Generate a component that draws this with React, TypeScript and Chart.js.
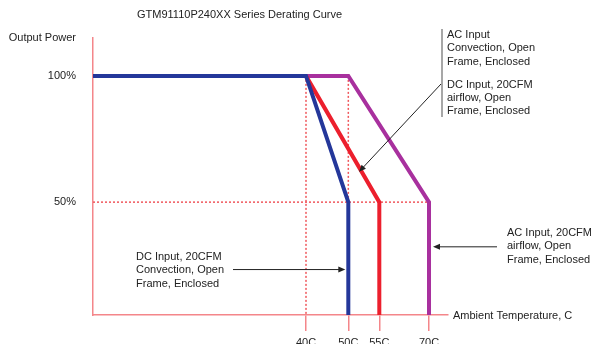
import React, { useEffect, useRef } from "react";
import { Chart, registerables, LinearScale } from "chart.js";

// ---- axis ranges ----
const X_MIN = 0;
const X_MAX = 75;
const Y_MIN = 5.3;
const Y_MAX = 115;

// ---- ticks ----
const xTicks = [40, 50, 55, 70];
const xTickLabels = ["40C", "50C", "55C", "70C"];
const yTicks = [50, 100, 115];
const yTickLabels = ["50%", "100%", "Output Power"];

// ---- series ----
// DC Input, 20CFM Convection, Open Frame, Enclosed
const dcConvX = [X_MIN, 40, 50, 50];
const dcConvY = [100, 100, 50, Y_MIN];
// AC Input Convection / DC Input 20CFM airflow
const dcAirX = [40, 55, 55];
const dcAirY = [100, 50, Y_MIN];
// AC Input, 20CFM airflow
const acAirX = [40, 50, 70, 70];
const acAirY = [100, 100, 50, Y_MIN];

// ---- dotted reference lines ----
const ref50pX = [X_MIN, 70];
const ref50pY = [50, 50];
const ref40cX = [40, 40];
const ref40cY = [100, Y_MIN];
const ref50cX = [50, 50];
const ref50cY = [100, Y_MIN];

// ---- texts ----
const titleText = "GTM91110P240XX Series Derating Curve";
const xAxisTitle = "Ambient Temperature, C";
const noteAcConv = ["AC Input", "Convection, Open", "Frame, Enclosed"];
const noteDcAir = ["DC Input, 20CFM", "airflow, Open", "Frame, Enclosed"];
const noteAcAir = ["AC Input, 20CFM", "airflow, Open", "Frame, Enclosed"];
const noteDcConv = ["DC Input, 20CFM", "Convection, Open", "Frame, Enclosed"];

// arrow tips (data values on the curves)
const tipDcAir = [51.4, 62];
const tipAcAir = [70, 32.3];
const tipDcConv = [50, 23.3];

// the schematic temperature axis is not evenly spaced: break values and
// their relative positions along the axis
const X_BREAKS = [X_MIN, 40, 50, 55, 70, X_MAX];
const X_BREAK_POS = [0, 0.6, 0.7192, 0.8065, 0.9465, 1];

const BLUE = "#24379a";
const RED = "#ec1f2d";
const PURPLE = "#a8309e";
const AXIS = "#f4868a";
const DOT = "#f0575c";
const TEXT = "#222222";
const FONT = '"Liberation Sans", Arial, Helvetica, sans-serif';

class SegmentedScale extends (LinearScale as any) {
  static id = "segmented";
  getPixelForValue(value: number) {
    if (value === null || value === undefined || isNaN(value)) return NaN;
    const s = X_BREAKS;
    const p = X_BREAK_POS;
    let i = 0;
    while (i < s.length - 2 && value > s[i + 1]) i++;
    const d = p[i] + ((value - s[i]) / (s[i + 1] - s[i])) * (p[i + 1] - p[i]);
    return (this as any).getPixelForDecimal(d);
  }
  getValueForPixel(pixel: number) {
    const d = (this as any).getDecimalForPixel(pixel);
    const s = X_BREAKS;
    const p = X_BREAK_POS;
    let i = 0;
    while (i < p.length - 2 && d > p[i + 1]) i++;
    return s[i] + ((d - p[i]) / (p[i + 1] - p[i])) * (s[i + 1] - s[i]);
  }
}

Chart.register(...registerables, SegmentedScale as any);

const pts = (xs: number[], ys: number[]) => xs.map((x, i) => ({ x, y: ys[i] }));

function arrow(ctx: CanvasRenderingContext2D, x1: number, y1: number, x2: number, y2: number) {
  const a = Math.atan2(y2 - y1, x2 - x1);
  const len = 7;
  const w = 3;
  ctx.beginPath();
  ctx.moveTo(x1, y1);
  ctx.lineTo(x2 - Math.cos(a) * (len - 1), y2 - Math.sin(a) * (len - 1));
  ctx.stroke();
  ctx.beginPath();
  ctx.moveTo(x2, y2);
  ctx.lineTo(x2 - Math.cos(a) * len - Math.sin(a) * w, y2 - Math.sin(a) * len + Math.cos(a) * w);
  ctx.lineTo(x2 - Math.cos(a) * len + Math.sin(a) * w, y2 - Math.sin(a) * len - Math.cos(a) * w);
  ctx.closePath();
  ctx.fill();
}

const annotations = {
  id: "annotations",
  afterDatasetsDraw(chart: any) {
    const ctx: CanvasRenderingContext2D = chart.ctx;
    const xs = chart.scales.x;
    const ys = chart.scales.y;
    ctx.save();
    ctx.font = `11px ${FONT}`;
    ctx.fillStyle = TEXT;
    ctx.textBaseline = "middle";
    ctx.textAlign = "left";
    ctx.fillText(titleText, 137, 15);
    ctx.fillText(xAxisTitle, 453, 316);

    const block = (lines: string[], x: number, y0: number) =>
      lines.forEach((t, i) => ctx.fillText(t, x, y0 + i * 13.4));
    block(noteAcConv, 447, 34.8);
    block(noteDcAir, 447, 84.6);
    block(noteAcAir, 507, 232.7);
    block(noteDcConv, 136, 256.8);

    // grey bracket
    ctx.strokeStyle = "#8a8a8a";
    ctx.lineWidth = 1.5;
    ctx.beginPath();
    ctx.moveTo(442, 29);
    ctx.lineTo(442, 117);
    ctx.stroke();

    ctx.strokeStyle = "#222";
    ctx.fillStyle = "#222";
    ctx.lineWidth = 1;
    // DC 20CFM airflow arrow -> red curve
    arrow(ctx, 441, 84, xs.getPixelForValue(tipDcAir[0]) + 2, ys.getPixelForValue(tipDcAir[1]));
    // AC 20CFM arrow -> purple
    const yA = ys.getPixelForValue(tipAcAir[1]);
    arrow(ctx, 497, yA, xs.getPixelForValue(tipAcAir[0]) + 4, yA);
    // DC convection arrow -> blue
    const yD = ys.getPixelForValue(tipDcConv[1]);
    arrow(ctx, 233, yD, xs.getPixelForValue(tipDcConv[0]) - 3, yD);
    ctx.restore();
  },
};

export default function App() {
  const ref = useRef<HTMLCanvasElement>(null);
  useEffect(() => {
    document.body.style.margin = "0";
    const dotted = (xs: number[], ys: number[]) => ({
      data: pts(xs, ys),
      borderColor: DOT,
      borderWidth: 1.5,
      borderDash: [2, 2],
      order: 10,
    });
    const chart = new Chart(ref.current!, {
      type: "line",
      data: {
        datasets: [
          { data: pts(dcConvX, dcConvY), borderColor: BLUE, borderWidth: 4, order: 1 },
          { data: pts(dcAirX, dcAirY), borderColor: RED, borderWidth: 4, order: 2 },
          { data: pts(acAirX, acAirY), borderColor: PURPLE, borderWidth: 4, order: 3 },
          dotted(ref50pX, ref50pY),
          dotted(ref40cX, ref40cY),
          dotted(ref50cX, ref50cY),
        ] as any,
      },
      options: {
        animation: false,
        responsive: false,
        layout: { padding: { top: 38, right: 143, bottom: 0, left: 0 } },
        elements: { point: { radius: 0 }, line: { tension: 0, borderJoinStyle: "miter" } },
        plugins: { legend: { display: false }, tooltip: { enabled: false }, title: { display: false } },
        scales: {
          x: {
            type: "segmented",
            min: X_MIN,
            max: X_MAX,
            afterBuildTicks: (s: any) => {
              s.ticks = xTicks.map((v) => ({ value: v }));
            },
            afterFit: (s: any) => {
              s.height = 29;
            },
            ticks: {
              autoSkip: false,
              maxRotation: 0,
              padding: 5,
              color: TEXT,
              font: { family: FONT, size: 11 },
              callback: (v: any) => xTickLabels[xTicks.indexOf(Number(v))] ?? "",
            },
            grid: { drawOnChartArea: false, drawTicks: true, tickLength: 16, color: AXIS, lineWidth: 1.5 },
            border: { color: AXIS, width: 1.5 },
          },
          y: {
            type: "linear",
            min: Y_MIN,
            max: Y_MAX,
            afterBuildTicks: (s: any) => {
              s.ticks = yTicks.map((v) => ({ value: v }));
            },
            afterFit: (s: any) => {
              s.width = 93;
            },
            ticks: {
              autoSkip: false,
              padding: 17,
              color: TEXT,
              font: { family: FONT, size: 11 },
              callback: (v: any) => yTickLabels[yTicks.indexOf(Number(v))] ?? "",
            },
            grid: { drawOnChartArea: false, drawTicks: false, color: AXIS },
            border: { color: AXIS, width: 1.5 },
          },
        },
      } as any,
      plugins: [annotations],
    });
    return () => chart.destroy();
  }, []);
  return (
    <div style={{ width: 591, height: 344 }}>
      <canvas ref={ref} width={591} height={344} style={{ display: "block" }} />
    </div>
  );
}
